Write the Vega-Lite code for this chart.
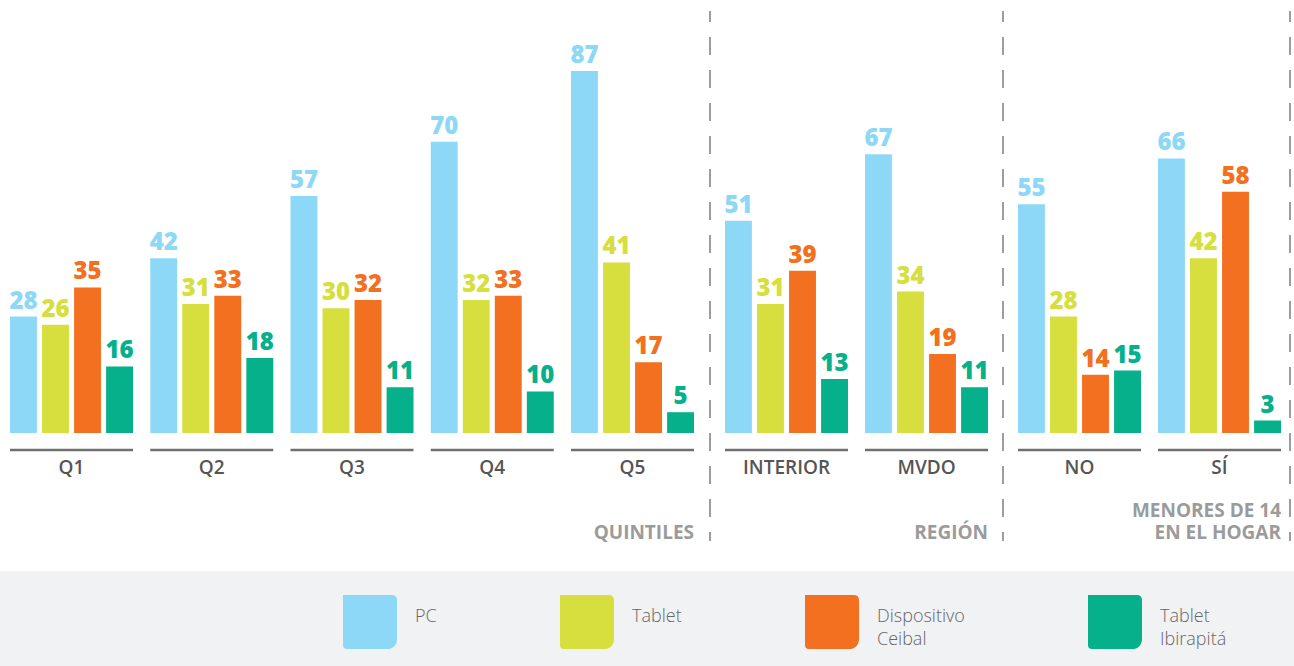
{
  "$schema": "https://vega.github.io/schema/vega-lite/v6.json",
  "background": "#ffffff",
  "padding": {"top": 10, "left": 0, "right": 0, "bottom": 0},
  "bounds": "flush",
  "columns": 3,
  "spacing": {"row": 30, "column": 0},
  "config": {
    "view": {"stroke": null},
    "font": "Open Sans",
    "style": {"guide-label": {"lineHeight": 23}}
  },
  "resolve": {"scale": {"color": "shared"}},
  "datasets": {
    "valores": [
      {"panel": "quintiles", "grupo": "Q1", "serie": "PC", "valor": 28},
      {"panel": "quintiles", "grupo": "Q1", "serie": "Tablet", "valor": 26},
      {"panel": "quintiles", "grupo": "Q1", "serie": "Dispositivo Ceibal", "valor": 35},
      {"panel": "quintiles", "grupo": "Q1", "serie": "Tablet Ibirapitá", "valor": 16},
      {"panel": "quintiles", "grupo": "Q2", "serie": "PC", "valor": 42},
      {"panel": "quintiles", "grupo": "Q2", "serie": "Tablet", "valor": 31},
      {"panel": "quintiles", "grupo": "Q2", "serie": "Dispositivo Ceibal", "valor": 33},
      {"panel": "quintiles", "grupo": "Q2", "serie": "Tablet Ibirapitá", "valor": 18},
      {"panel": "quintiles", "grupo": "Q3", "serie": "PC", "valor": 57},
      {"panel": "quintiles", "grupo": "Q3", "serie": "Tablet", "valor": 30},
      {"panel": "quintiles", "grupo": "Q3", "serie": "Dispositivo Ceibal", "valor": 32},
      {"panel": "quintiles", "grupo": "Q3", "serie": "Tablet Ibirapitá", "valor": 11},
      {"panel": "quintiles", "grupo": "Q4", "serie": "PC", "valor": 70},
      {"panel": "quintiles", "grupo": "Q4", "serie": "Tablet", "valor": 32},
      {"panel": "quintiles", "grupo": "Q4", "serie": "Dispositivo Ceibal", "valor": 33},
      {"panel": "quintiles", "grupo": "Q4", "serie": "Tablet Ibirapitá", "valor": 10},
      {"panel": "quintiles", "grupo": "Q5", "serie": "PC", "valor": 87},
      {"panel": "quintiles", "grupo": "Q5", "serie": "Tablet", "valor": 41},
      {"panel": "quintiles", "grupo": "Q5", "serie": "Dispositivo Ceibal", "valor": 17},
      {"panel": "quintiles", "grupo": "Q5", "serie": "Tablet Ibirapitá", "valor": 5},
      {"panel": "region", "grupo": "INTERIOR", "serie": "PC", "valor": 51},
      {"panel": "region", "grupo": "INTERIOR", "serie": "Tablet", "valor": 31},
      {"panel": "region", "grupo": "INTERIOR", "serie": "Dispositivo Ceibal", "valor": 39},
      {"panel": "region", "grupo": "INTERIOR", "serie": "Tablet Ibirapitá", "valor": 13},
      {"panel": "region", "grupo": "MVDO", "serie": "PC", "valor": 67},
      {"panel": "region", "grupo": "MVDO", "serie": "Tablet", "valor": 34},
      {"panel": "region", "grupo": "MVDO", "serie": "Dispositivo Ceibal", "valor": 19},
      {"panel": "region", "grupo": "MVDO", "serie": "Tablet Ibirapitá", "valor": 11},
      {"panel": "menores", "grupo": "NO", "serie": "PC", "valor": 55},
      {"panel": "menores", "grupo": "NO", "serie": "Tablet", "valor": 28},
      {"panel": "menores", "grupo": "NO", "serie": "Dispositivo Ceibal", "valor": 14},
      {"panel": "menores", "grupo": "NO", "serie": "Tablet Ibirapitá", "valor": 15},
      {"panel": "menores", "grupo": "SÍ", "serie": "PC", "valor": 66},
      {"panel": "menores", "grupo": "SÍ", "serie": "Tablet", "valor": 42},
      {"panel": "menores", "grupo": "SÍ", "serie": "Dispositivo Ceibal", "valor": 58},
      {"panel": "menores", "grupo": "SÍ", "serie": "Tablet Ibirapitá", "valor": 3}
    ],
    "grupos": [
      {"panel": "quintiles", "grupo": "Q1"},
      {"panel": "quintiles", "grupo": "Q2"},
      {"panel": "quintiles", "grupo": "Q3"},
      {"panel": "quintiles", "grupo": "Q4"},
      {"panel": "quintiles", "grupo": "Q5"},
      {"panel": "region", "grupo": "INTERIOR"},
      {"panel": "region", "grupo": "MVDO"},
      {"panel": "menores", "grupo": "NO"},
      {"panel": "menores", "grupo": "SÍ"}
    ],
    "secciones": [
      {"panel": "quintiles", "grupo": "Q5", "titulo": "QUINTILES"},
      {"panel": "region", "grupo": "MVDO", "titulo": "REGIÓN"},
      {"panel": "menores", "grupo": "SÍ", "titulo": "MENORES DE 14\nEN EL HOGAR"}
    ],
    "borde": [{"borde": 1}],
    "vacio": [{"t": ""}]
  },
  "concat": [
    {
      "width": 710,
      "height": 530,
      "resolve": {"scale": {"x": "independent"}},
      "layer": [
        {
          "layer": [
            {
              "data": {"name": "valores"},
              "transform": [{"filter": "datum.panel === 'quintiles'"}],
              "mark": {"type": "bar"},
              "encoding": {
                "x": {"field": "grupo", "type": "nominal", "scale": {"domain": ["Q1", "Q2", "Q3", "Q4", "Q5"], "paddingInner": 0.123, "paddingOuter": 0.0927, "align": 0.385}, "axis": null},
                "xOffset": {"field": "serie", "type": "nominal", "scale": {"domain": ["PC", "Tablet", "Dispositivo Ceibal", "Tablet Ibirapitá"], "paddingInner": 0.16, "paddingOuter": 0}},
                "y": {"field": "valor", "type": "quantitative", "scale": {"domain": [-25.96, 101.44], "nice": false, "zero": false}, "axis": null},
                "color": {
                  "field": "serie", "type": "nominal",
                  "scale": {"domain": ["PC", "Tablet", "Dispositivo Ceibal", "Tablet Ibirapitá"], "range": ["#8dd8f7", "#d6df3d", "#f37021", "#05b08b"]},
                  "legend": {
                    "orient": "none", "legendX": 343, "legendY": 584, "direction": "horizontal",
                    "title": null, "padding": 0,
                    "symbolType": "M-1,-1H0.8Q1,-1 1,-0.8V0.6Q1,1 0.6,1H-0.85Q-1,1 -1,0.85Z",
                    "symbolSize": 2916, "symbolStrokeWidth": 0, "symbolOpacity": 1,
                    "labelFont": "Open Sans", "labelFontSize": 18, "labelFontWeight": 300, "labelColor": "#666666",
                    "labelBaseline": "alphabetic",
                    "labelOffset": 18, "columnPadding": 123, "labelLimit": 300,
                    "labelExpr": "split(datum.label, ' ')"
                  }
                }
              }
            },
            {
              "data": {"name": "valores"},
              "transform": [{"filter": "datum.panel === 'quintiles'"}],
              "mark": {"type": "text", "dy": -8, "baseline": "alphabetic", "fontSize": 24, "fontWeight": 800},
              "encoding": {
                "x": {"field": "grupo", "type": "nominal"},
                "xOffset": {"field": "serie", "type": "nominal"},
                "y": {"field": "valor", "type": "quantitative"},
                "text": {"field": "valor", "type": "quantitative"},
                "color": {"field": "serie", "type": "nominal"}
              }
            },
            {
              "data": {"name": "grupos"},
              "transform": [{"filter": "datum.panel === 'quintiles'"}],
              "mark": {"type": "bar", "color": "#707070"},
              "encoding": {
                "x": {"field": "grupo", "type": "nominal"},
                "y": {"datum": -3.8, "type": "quantitative"},
                "y2": {"datum": -4.4}
              }
            },
            {
              "data": {"name": "grupos"},
              "transform": [{"filter": "datum.panel === 'quintiles'"}],
              "mark": {"type": "text", "baseline": "alphabetic", "fontSize": 19, "fontWeight": 600, "color": "#555555"},
              "encoding": {
                "x": {"field": "grupo", "type": "nominal"},
                "y": {"datum": -9.74, "type": "quantitative"},
                "text": {"field": "grupo", "type": "nominal"}
              }
            },
            {
              "data": {"name": "secciones"},
              "transform": [{"filter": "datum.panel === 'quintiles'"}],
              "mark": {"type": "text", "align": "right", "baseline": "alphabetic", "fontSize": 19, "fontWeight": "bold", "color": "#9b9b9b"},
              "encoding": {
                "x": {"field": "grupo", "type": "nominal", "bandPosition": 1},
                "y": {"datum": -25.5, "type": "quantitative"},
                "text": {"field": "titulo", "type": "nominal"}
              }
            }
          ]
        },
        {
          "data": {"name": "borde"},
          "mark": {"type": "rule", "strokeDash": [18, 15], "strokeDashOffset": 7, "color": "#9d9d9d", "strokeWidth": 2},
          "encoding": {"x": {"field": "borde", "type": "quantitative", "scale": {"domain": [0, 1]}, "axis": null}}
        }
      ]
    },
    {
      "width": 293,
      "height": 530,
      "resolve": {"scale": {"x": "independent"}},
      "layer": [
        {
          "layer": [
            {
              "data": {"name": "valores"},
              "transform": [{"filter": "datum.panel === 'region'"}],
              "mark": {"type": "bar"},
              "encoding": {
                "x": {"field": "grupo", "type": "nominal", "scale": {"domain": ["INTERIOR", "MVDO"], "paddingInner": 0.1214, "paddingOuter": 0.1071, "align": 0.5}, "axis": null},
                "xOffset": {"field": "serie", "type": "nominal", "scale": {"domain": ["PC", "Tablet", "Dispositivo Ceibal", "Tablet Ibirapitá"], "paddingInner": 0.16, "paddingOuter": 0}},
                "y": {"field": "valor", "type": "quantitative", "scale": {"domain": [-25.96, 101.44], "nice": false, "zero": false}, "axis": null},
                "color": {"field": "serie", "type": "nominal"}
              }
            },
            {
              "data": {"name": "valores"},
              "transform": [{"filter": "datum.panel === 'region'"}],
              "mark": {"type": "text", "dy": -8, "baseline": "alphabetic", "fontSize": 24, "fontWeight": 800},
              "encoding": {
                "x": {"field": "grupo", "type": "nominal"},
                "xOffset": {"field": "serie", "type": "nominal"},
                "y": {"field": "valor", "type": "quantitative"},
                "text": {"field": "valor", "type": "quantitative"},
                "color": {"field": "serie", "type": "nominal"}
              }
            },
            {
              "data": {"name": "grupos"},
              "transform": [{"filter": "datum.panel === 'region'"}],
              "mark": {"type": "bar", "color": "#707070"},
              "encoding": {
                "x": {"field": "grupo", "type": "nominal"},
                "y": {"datum": -3.8, "type": "quantitative"},
                "y2": {"datum": -4.4}
              }
            },
            {
              "data": {"name": "grupos"},
              "transform": [{"filter": "datum.panel === 'region'"}],
              "mark": {"type": "text", "baseline": "alphabetic", "fontSize": 19, "fontWeight": 600, "color": "#555555"},
              "encoding": {
                "x": {"field": "grupo", "type": "nominal"},
                "y": {"datum": -9.74, "type": "quantitative"},
                "text": {"field": "grupo", "type": "nominal"}
              }
            },
            {
              "data": {"name": "secciones"},
              "transform": [{"filter": "datum.panel === 'region'"}],
              "mark": {"type": "text", "align": "right", "baseline": "alphabetic", "fontSize": 19, "fontWeight": "bold", "color": "#9b9b9b"},
              "encoding": {
                "x": {"field": "grupo", "type": "nominal", "bandPosition": 1},
                "y": {"datum": -25.5, "type": "quantitative"},
                "text": {"field": "titulo", "type": "nominal"}
              }
            }
          ]
        },
        {
          "data": {"name": "borde"},
          "mark": {"type": "rule", "strokeDash": [18, 15], "strokeDashOffset": 7, "color": "#9d9d9d", "strokeWidth": 2},
          "encoding": {"x": {"field": "borde", "type": "quantitative", "scale": {"domain": [0, 1]}, "axis": null}}
        }
      ]
    },
    {
      "width": 287,
      "height": 530,
      "resolve": {"scale": {"x": "independent"}},
      "layer": [
        {
          "layer": [
            {
              "data": {"name": "valores"},
              "transform": [{"filter": "datum.panel === 'menores'"}],
              "mark": {"type": "bar"},
              "encoding": {
                "x": {"field": "grupo", "type": "nominal", "scale": {"domain": ["NO", "SÍ"], "paddingInner": 0.1214, "paddingOuter": 0.0857, "align": 0.625}, "axis": null},
                "xOffset": {"field": "serie", "type": "nominal", "scale": {"domain": ["PC", "Tablet", "Dispositivo Ceibal", "Tablet Ibirapitá"], "paddingInner": 0.16, "paddingOuter": 0}},
                "y": {"field": "valor", "type": "quantitative", "scale": {"domain": [-25.96, 101.44], "nice": false, "zero": false}, "axis": null},
                "color": {"field": "serie", "type": "nominal"}
              }
            },
            {
              "data": {"name": "valores"},
              "transform": [{"filter": "datum.panel === 'menores'"}],
              "mark": {"type": "text", "dy": -8, "baseline": "alphabetic", "fontSize": 24, "fontWeight": 800},
              "encoding": {
                "x": {"field": "grupo", "type": "nominal"},
                "xOffset": {"field": "serie", "type": "nominal"},
                "y": {"field": "valor", "type": "quantitative"},
                "text": {"field": "valor", "type": "quantitative"},
                "color": {"field": "serie", "type": "nominal"}
              }
            },
            {
              "data": {"name": "grupos"},
              "transform": [{"filter": "datum.panel === 'menores'"}],
              "mark": {"type": "bar", "color": "#707070"},
              "encoding": {
                "x": {"field": "grupo", "type": "nominal"},
                "y": {"datum": -3.8, "type": "quantitative"},
                "y2": {"datum": -4.4}
              }
            },
            {
              "data": {"name": "grupos"},
              "transform": [{"filter": "datum.panel === 'menores'"}],
              "mark": {"type": "text", "baseline": "alphabetic", "fontSize": 19, "fontWeight": 600, "color": "#555555"},
              "encoding": {
                "x": {"field": "grupo", "type": "nominal"},
                "y": {"datum": -9.74, "type": "quantitative"},
                "text": {"field": "grupo", "type": "nominal"}
              }
            },
            {
              "data": {"name": "secciones"},
              "transform": [{"filter": "datum.panel === 'menores'"}],
              "mark": {"type": "text", "align": "right", "baseline": "alphabetic", "fontSize": 19, "fontWeight": "bold", "color": "#9b9b9b", "lineBreak": "\n", "lineHeight": 22},
              "encoding": {
                "x": {"field": "grupo", "type": "nominal", "bandPosition": 1},
                "y": {"datum": -20.2, "type": "quantitative"},
                "text": {"field": "titulo", "type": "nominal"}
              }
            }
          ]
        },
        {
          "data": {"name": "borde"},
          "mark": {"type": "rule", "strokeDash": [18, 15], "strokeDashOffset": 7, "color": "#9d9d9d", "strokeWidth": 2},
          "encoding": {"x": {"field": "borde", "type": "quantitative", "scale": {"domain": [0, 1]}, "axis": null}}
        }
      ]
    },
    {
      "width": 710,
      "height": 96,
      "view": {"fill": "#f1f2f4", "stroke": null},
      "data": {"name": "vacio"},
      "mark": {"type": "text"},
      "encoding": {"text": {"field": "t", "type": "nominal"}}
    },
    {
      "width": 293,
      "height": 96,
      "view": {"fill": "#f1f2f4", "stroke": null},
      "data": {"name": "vacio"},
      "mark": {"type": "text"},
      "encoding": {"text": {"field": "t", "type": "nominal"}}
    },
    {
      "width": 291,
      "height": 96,
      "view": {"fill": "#f1f2f4", "stroke": null},
      "data": {"name": "vacio"},
      "mark": {"type": "text"},
      "encoding": {"text": {"field": "t", "type": "nominal"}}
    }
  ]
}
